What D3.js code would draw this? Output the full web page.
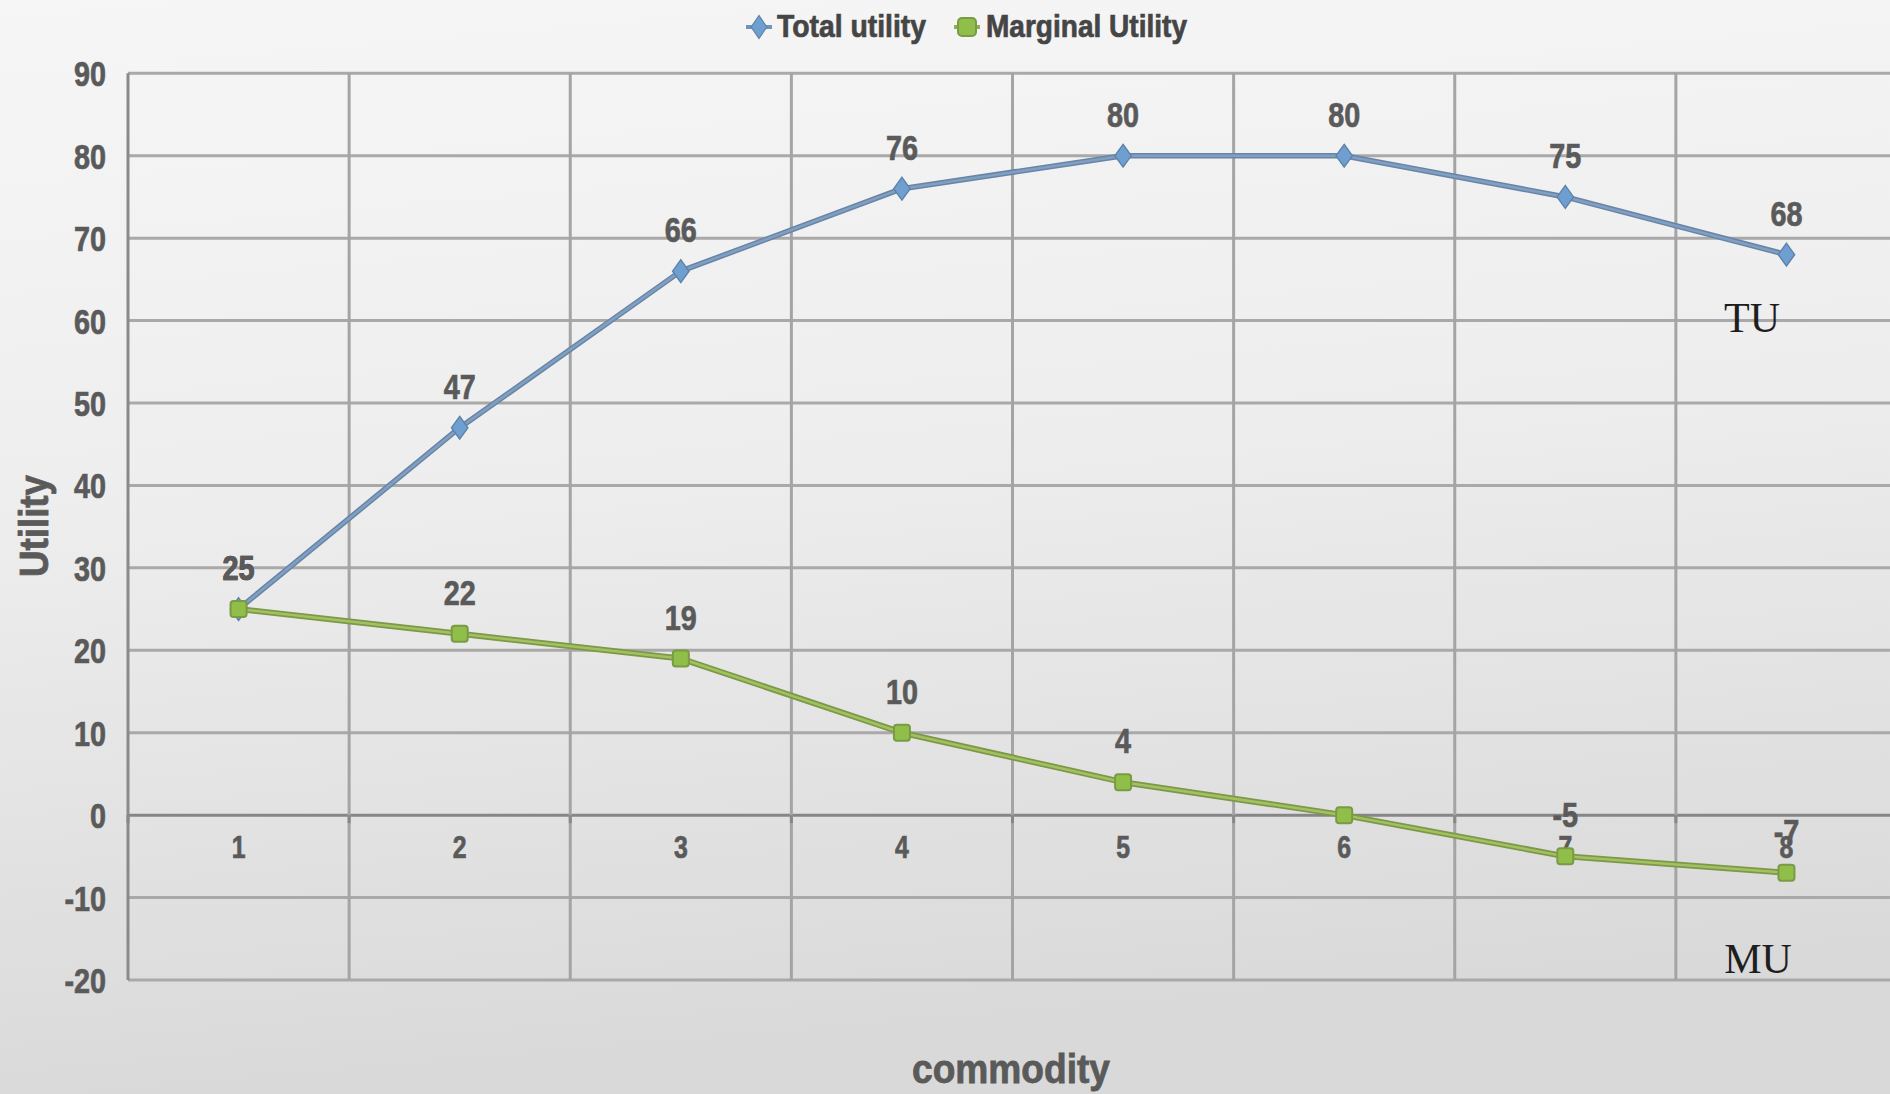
<!DOCTYPE html>
<html><head><meta charset="utf-8">
<script src="https://cdn.jsdelivr.net/npm/d3@7"></script>
<style>html,body{margin:0;padding:0;overflow:hidden;background:#eee}</style>
</head><body>
<script>
const categories = ["1","2","3","4","5","6","7","8"];
const totalUtility = [25,47,66,76,80,80,75,68];
const marginalUtility = [25,22,19,10,4,0,-5,-7];
const totalLabels = ["25","47","66","76","80","80","75","68"];
const marginalLabels = ["25","22","19","10","4","","-5","-7"];
const yTicks = [-20,-10,0,10,20,30,40,50,60,70,80,90];
const seriesNames = ["Total utility","Marginal Utility"];

const W = 1890, H = 1094;
const svg = d3.select("body").append("svg").attr("width", W).attr("height", H);
const defs = svg.append("defs");
const bg = defs.append("linearGradient").attr("id","bg").attr("x1",0).attr("y1",0).attr("x2",0.15).attr("y2",1);
bg.append("stop").attr("offset",0).attr("stop-color","#f6f6f6");
bg.append("stop").attr("offset",0.45).attr("stop-color","#eeeeee");
bg.append("stop").attr("offset",1).attr("stop-color","#d9d9d9");
svg.append("rect").attr("width",W).attr("height",H).attr("fill","url(#bg)");

const x = d3.scaleBand().domain(categories).range([128, 1897]).paddingInner(0).paddingOuter(0);
const y = d3.scaleLinear().domain([-20, 90]).range([980, 73.3]);
const cx = c => x(c) + x.bandwidth()/2;

const font = "'Liberation Sans Narrow','Liberation Sans',Arial,sans-serif";
const txt = "#5a5a5a";
const SX = 0.8;

// gridlines horizontal
const g = svg.append("g");
g.selectAll("line.h").data(yTicks).join("line")
  .attr("x1", x.range()[0]).attr("x2", x.range()[1])
  .attr("y1", d => y(d)).attr("y2", d => y(d))
  .attr("stroke", d => d === 0 ? "#868686" : "#a9a9a9").attr("stroke-width", 3);
const bounds = categories.map(c => x(c)).concat([x.range()[1]]);
g.selectAll("line.v").data(bounds).join("line")
  .attr("x1", d => d).attr("x2", d => d)
  .attr("y1", y(90)).attr("y2", y(-20))
  .attr("stroke", (d,i) => i === 0 ? "#8a8a8a" : "#a4a4a4").attr("stroke-width", 3);
g.selectAll("line.t").data(bounds).join("line")
  .attr("x1", d => d).attr("x2", d => d)
  .attr("y1", y(0)).attr("y2", y(0)+8)
  .attr("stroke", "#888").attr("stroke-width", 3);

function condText(sel, size) {
  return sel.attr("x", 0).attr("y", 0)
    .attr("font-family", font).attr("font-weight","bold")
    .attr("font-size", size).attr("fill", txt).attr("stroke", txt).attr("stroke-width", 0.7);
}

// y tick labels
condText(svg.append("g").selectAll("text").data(yTicks).join("text"), 36)
  .attr("transform", d => `translate(106,${y(d)}) scale(${SX},1)`)
  .attr("dy", "0.36em").attr("text-anchor","end")
  .text(d => d);

// x tick labels
condText(svg.append("g").selectAll("text").data(categories).join("text"), 31)
  .attr("transform", d => `translate(${cx(d)},${y(0) + 43}) scale(${SX},1)`)
  .attr("text-anchor","middle")
  .text(d => d);

const line = d3.line().x((d,i) => cx(categories[i])).y(d => y(d));

svg.append("path").datum(totalUtility).attr("d", line).attr("fill","none")
  .attr("stroke","#6885a6").attr("stroke-width",5.5).attr("stroke-linejoin","round");
svg.append("path").datum(totalUtility).attr("d", line).attr("fill","none")
  .attr("stroke","#809fc2").attr("stroke-width",2.5).attr("stroke-linejoin","round");
svg.append("path").datum(marginalUtility).attr("d", line).attr("fill","none")
  .attr("stroke","#7c9848").attr("stroke-width",6).attr("stroke-linejoin","round");
svg.append("path").datum(marginalUtility).attr("d", line).attr("fill","none")
  .attr("stroke","#a2c161").attr("stroke-width",2.5).attr("stroke-linejoin","round");

const diamond = d3.symbol().type(d3.symbolDiamond).size(150);
svg.append("g").selectAll("path").data(totalUtility).join("path")
  .attr("d", diamond)
  .attr("transform", (d,i) => `translate(${cx(categories[i])},${y(d)}) scale(1.25,1)`)
  .attr("fill","#6f9fd0").attr("stroke","#5f82a8").attr("stroke-width",1.2);
svg.append("g").selectAll("rect").data(marginalUtility).join("rect")
  .attr("x", (d,i) => cx(categories[i]) - 8).attr("y", d => y(d) - 8)
  .attr("width",16).attr("height",16).attr("rx",3)
  .attr("fill","#8fbf48").attr("stroke","#7a9a45").attr("stroke-width",2);

// data labels
const lab = (data, labels) => condText(svg.append("g").selectAll("text").data(data).join("text"), 36)
  .attr("transform", (d,i) => `translate(${cx(categories[i])},${y(d) - 29}) scale(${SX},1)`)
  .attr("text-anchor","middle")
  .text((d,i) => labels[i]);
lab(totalUtility, totalLabels);
lab(marginalUtility, marginalLabels);

svg.append("text").attr("x", 1752).attr("y", 332).attr("text-anchor","middle")
  .attr("font-family","'Liberation Serif','Times New Roman',serif").attr("font-size",42)
  .attr("fill","#1e1e1e").text("TU");
svg.append("text").attr("x", 1758).attr("y", 973).attr("text-anchor","middle")
  .attr("font-family","'Liberation Serif','Times New Roman',serif").attr("font-size",42)
  .attr("fill","#1e1e1e").text("MU");

svg.append("text").attr("transform","translate(48,526) rotate(-90)")
  .attr("text-anchor","middle").attr("font-family", font).attr("font-weight","bold")
  .attr("font-size", 40).attr("fill", txt).attr("stroke", txt).attr("stroke-width", 0.8)
  .attr("textLength", 102).attr("lengthAdjust","spacingAndGlyphs")
  .text("Utility");
svg.append("text").attr("x", 1011).attr("y", 1083)
  .attr("text-anchor","middle").attr("font-family", font).attr("font-weight","bold")
  .attr("font-size", 40).attr("fill", txt).attr("stroke", txt).attr("stroke-width", 0.8)
  .attr("textLength", 198).attr("lengthAdjust","spacingAndGlyphs")
  .text("commodity");

const leg = svg.append("g");
const legItems = [
  {name: seriesNames[0], mx: 759, tx: 777, tw: 149, kind: "d"},
  {name: seriesNames[1], mx: 967, tx: 986, tw: 201, kind: "s"}
];
legItems.forEach(it => {
  leg.append("line").attr("x1", it.mx - 13).attr("x2", it.mx + 13).attr("y1", 27).attr("y2", 27)
    .attr("stroke", it.kind === "d" ? "#6f93bb" : "#8fb050").attr("stroke-width", 4);
  if (it.kind === "d") {
    leg.append("path").attr("d", diamond).attr("transform", `translate(${it.mx},27) scale(1.2,1)`)
      .attr("fill","#6f9fd0").attr("stroke","#5f82a8");
  } else {
    leg.append("rect").attr("x", it.mx - 9).attr("y", 18).attr("width", 18).attr("height", 18).attr("rx", 4)
      .attr("fill","#8fbf48").attr("stroke","#7a9a45").attr("stroke-width",2);
  }
  leg.append("text").attr("x", it.tx).attr("y", 37).attr("font-family", font).attr("font-weight","bold")
    .attr("font-size", 32).attr("fill", "#454545").attr("stroke", "#454545").attr("stroke-width", 0.7)
    .attr("textLength", it.tw).attr("lengthAdjust","spacingAndGlyphs")
    .text(it.name);
});
</script>
</body></html>
